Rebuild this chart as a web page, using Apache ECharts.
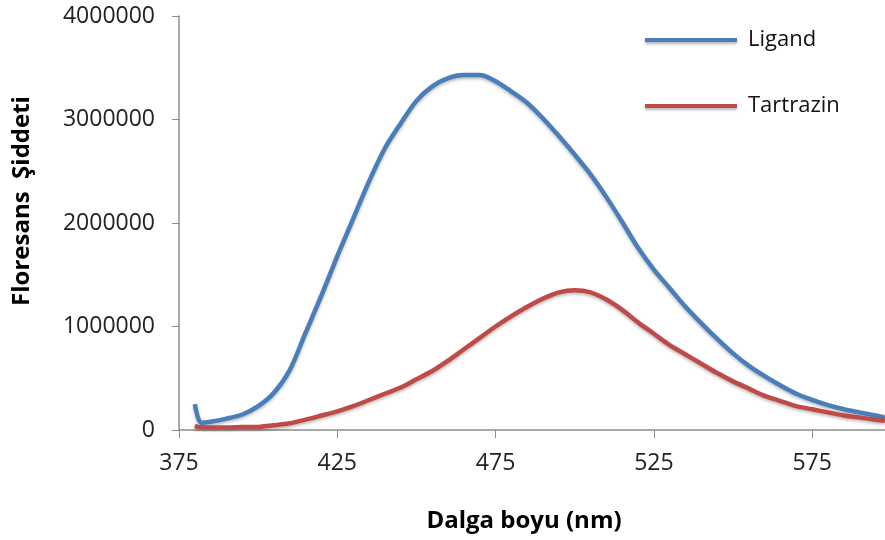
<!DOCTYPE html>
<html>
<head>
<meta charset="utf-8">
<script src="https://cdn.jsdelivr.net/npm/echarts@6/dist/echarts.min.js"></script>
<style>
  html, body { margin: 0; padding: 0; background: #fff; }
  #chart { width: 885px; height: 540px; }
</style>
</head>
<body>
<div id="chart"></div>
<script>
// wavelength (nm)
const wavelengths = [380, 381, 382, 385, 390, 395, 400, 405, 410, 415, 420, 425, 430, 435, 440, 445, 450, 455, 460, 465, 470, 475, 480, 485, 490, 495, 500, 505, 510, 515, 520, 525, 530, 535, 540, 545, 550, 555, 560, 565, 570, 575, 580, 585, 590, 595, 598];
// intensity, millions
const ligand = [0.25, 0.12, 0.07, 0.08, 0.11, 0.15, 0.23, 0.36, 0.58, 0.94, 1.30, 1.68, 2.04, 2.40, 2.72, 2.96, 3.18, 3.32, 3.40, 3.43, 3.43, 3.37, 3.27, 3.16, 3.01, 2.84, 2.66, 2.47, 2.25, 2.01, 1.76, 1.55, 1.37, 1.19, 1.03, 0.88, 0.74, 0.62, 0.52, 0.43, 0.35, 0.29, 0.24, 0.20, 0.17, 0.14, 0.12];
const tartrazin = [0.04, 0.03, 0.027, 0.025, 0.025, 0.028, 0.03, 0.045, 0.065, 0.10, 0.14, 0.18, 0.23, 0.29, 0.35, 0.41, 0.49, 0.57, 0.67, 0.78, 0.89, 1.00, 1.10, 1.19, 1.27, 1.33, 1.35, 1.33, 1.26, 1.16, 1.04, 0.93, 0.82, 0.73, 0.64, 0.55, 0.47, 0.40, 0.33, 0.28, 0.23, 0.20, 0.17, 0.14, 0.12, 0.10, 0.09];
const xTicks = [375, 425, 475, 525, 575];

const font = '"Open Sans", "Noto Sans", sans-serif';

function pairs(vals) {
  return wavelengths.map((w, i) => [w, vals[i] * 1000000]);
}

const chart = echarts.init(document.getElementById('chart'));
chart.setOption({
  animation: false,
  textStyle: { fontFamily: font },
  grid: { left: 179, right: 0, top: 16, bottom: 110, containLabel: false },
  legend: {
    orient: 'vertical',
    left: 640,
    top: 24,
    icon: 'rect',
    itemWidth: 92,
    itemHeight: 4,
    itemGap: 44,
    itemStyle: { shadowColor: 'rgba(0,0,0,0.3)', shadowBlur: 3, shadowOffsetY: 2 },
    textStyle: { fontSize: 22, color: '#111', fontFamily: font, padding: [8, 0, 0, 6] },
    data: ['Ligand', 'Tartrazin']
  },
  xAxis: {
    type: 'value',
    min: 375,
    max: 598,
    interval: 50,
    axisLine: { lineStyle: { color: '#8c8c8c', width: 1.5 } },
    axisTick: { customValues: xTicks, length: 8, lineStyle: { color: '#8c8c8c' } },
    axisLabel: { customValues: xTicks, fontSize: 23, color: '#222', margin: 22, fontFamily: font },
    splitLine: { show: false }
  },
  yAxis: {
    type: 'value',
    min: 0,
    max: 4000000,
    interval: 1000000,
    axisLine: { show: true, lineStyle: { color: '#8c8c8c', width: 1.5 } },
    axisTick: { show: true, length: 7, lineStyle: { color: '#8c8c8c' } },
    axisLabel: { fontSize: 23, color: '#222', margin: 24, fontFamily: font, formatter: v => String(v) },
    splitLine: { show: false }
  },
  graphic: [
    {
      type: 'text', x: 22, y: 201, rotation: Math.PI / 2,
      style: { text: 'Floresans  Şiddeti', font: 'bold 24px ' + font, fill: '#000', align: 'center', verticalAlign: 'middle' }
    },
    {
      type: 'text', x: 524, y: 521,
      style: { text: 'Dalga boyu (nm)', font: 'bold 24px ' + font, fill: '#000', align: 'center', verticalAlign: 'middle' }
    }
  ],
  series: [
    {
      name: 'Ligand',
      type: 'line',
      data: pairs(ligand),
      showSymbol: false,
      symbol: 'none',
      smooth: 0.3,
      color: '#4a7ebb',
      lineStyle: { width: 4.5, color: '#4a7ebb', shadowColor: 'rgba(0,0,0,0.25)', shadowBlur: 3, shadowOffsetY: 2 }
    },
    {
      name: 'Tartrazin',
      type: 'line',
      data: pairs(tartrazin),
      showSymbol: false,
      symbol: 'none',
      smooth: 0.3,
      color: '#be4b48',
      lineStyle: { width: 4.5, color: '#be4b48', shadowColor: 'rgba(0,0,0,0.25)', shadowBlur: 3, shadowOffsetY: 2 }
    }
  ]
});
</script>
</body>
</html>
